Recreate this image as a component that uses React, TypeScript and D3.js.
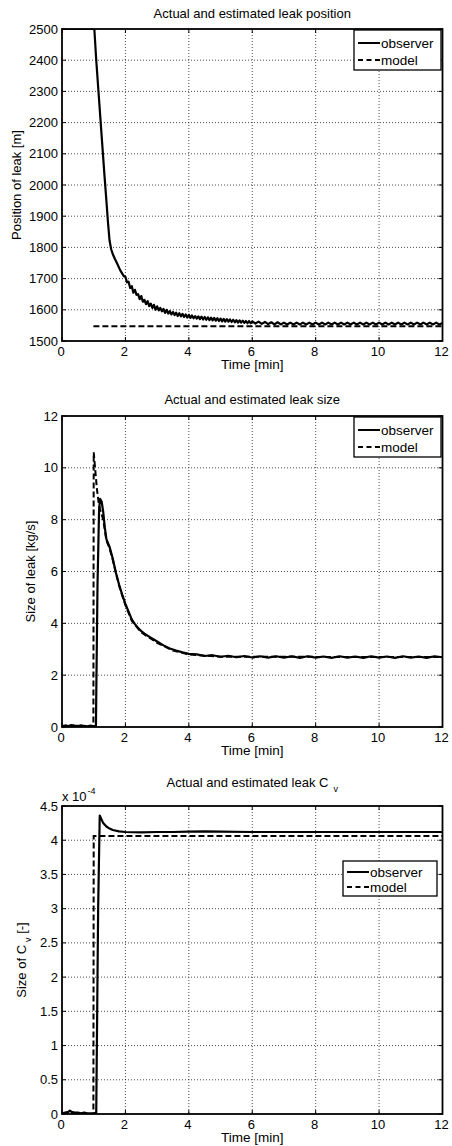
import React from 'react';
import * as d3 from 'd3';

type Pt = [number, number];

// axis ticks
const timeTicks = [0, 2, 4, 6, 8, 10, 12];
const positionTicks = [1500, 1600, 1700, 1800, 1900, 2000, 2100, 2200, 2300, 2400, 2500];
const sizeTicks = [0, 2, 4, 6, 8, 10, 12];
const cvTicks = [0, 0.5, 1, 1.5, 2, 2.5, 3, 3.5, 4, 4.5];
const cvTickLabels = ['0', '0.5', '1', '1.5', '2', '2.5', '3', '3.5', '4', '4.5'];

// leak position [m]
const positionObserver: Pt[] = [
  [0, 2500], [1.02, 2500], [1.08, 2400], [1.15, 2300], [1.22, 2200], [1.28, 2115], [1.34, 2030],
  [1.4, 1950], [1.45, 1880], [1.5, 1822], [1.55, 1794], [1.6, 1779],
  [1.67, 1763], [1.75, 1746], [1.83, 1728], [1.9, 1716], [1.95, 1708],
  [2.0, 1706], [2.05, 1688], [2.1, 1690], [2.15, 1670], [2.2, 1676], [2.25, 1655], [2.3, 1664],
  [2.35, 1648], [2.4, 1650], [2.45, 1634], [2.5, 1644], [2.55, 1626], [2.6, 1632], [2.65, 1618],
  [2.7, 1628], [2.75, 1612], [2.8, 1620], [2.85, 1606], [2.9, 1616], [2.95, 1600], [3.0, 1611],
  [3.05, 1598], [3.1, 1606], [3.15, 1595], [3.2, 1603], [3.25, 1590], [3.3, 1600], [3.35, 1588],
  [3.4, 1596], [3.45, 1585], [3.5, 1593], [3.55, 1583], [3.6, 1591], [3.65, 1580], [3.7, 1589],
  [3.75, 1579], [3.8, 1587], [3.85, 1577], [3.9, 1585], [3.95, 1575], [4.0, 1584], [4.05, 1574],
  [4.1, 1582], [4.15, 1573], [4.2, 1580], [4.25, 1572], [4.3, 1579], [4.35, 1570], [4.4, 1578],
  [4.45, 1569], [4.5, 1577], [4.55, 1568], [4.6, 1576], [4.65, 1567], [4.7, 1575], [4.75, 1566],
  [4.8, 1574], [4.85, 1565], [4.9, 1573], [4.95, 1564], [5.0, 1572], [5.05, 1563], [5.1, 1571],
  [5.15, 1562], [5.2, 1570], [5.25, 1562], [5.3, 1569], [5.35, 1561], [5.4, 1568], [5.45, 1560],
  [5.5, 1567], [5.55, 1559], [5.6, 1566], [5.65, 1559], [5.7, 1565], [5.75, 1558], [5.8, 1564],
  [5.85, 1557], [5.9, 1564], [5.95, 1557], [6.0, 1563],
  [6.1, 1556], [6.2, 1562], [6.3, 1555], [6.4, 1561], [6.5, 1554], [6.6, 1560], [6.7, 1553],
  [6.8, 1560], [6.9, 1553], [7.0, 1559], [7.1, 1553], [7.2, 1559], [7.3, 1553], [7.4, 1559],
  [7.5, 1553], [7.6, 1559], [7.7, 1553], [7.8, 1559], [7.9, 1553], [8.0, 1559], [8.1, 1553],
  [8.2, 1559], [8.3, 1553], [8.4, 1559], [8.5, 1553], [8.6, 1559], [8.7, 1553], [8.8, 1559],
  [8.9, 1553], [9.0, 1559], [9.1, 1553], [9.2, 1559], [9.3, 1553], [9.4, 1559], [9.5, 1553],
  [9.6, 1559], [9.7, 1553], [9.8, 1559], [9.9, 1553], [10.0, 1559], [10.1, 1553], [10.2, 1559],
  [10.3, 1553], [10.4, 1559], [10.5, 1553], [10.6, 1559], [10.7, 1553], [10.8, 1559], [10.9, 1553],
  [11.0, 1559], [11.1, 1553], [11.2, 1559], [11.3, 1553], [11.4, 1559], [11.5, 1553], [11.6, 1559],
  [11.7, 1553], [11.8, 1559], [11.9, 1553], [12.0, 1558],
];
const positionModel: Pt[] = [[0.99, 1547], [12, 1547]];

// leak size [kg/s]
const sizeObserver: Pt[] = [
  [0, 0.03], [0.1, 0.06], [0.2, 0.04], [0.3, 0.07], [0.4, 0.05], [0.5, 0.04], [0.6, 0.06],
  [0.7, 0.04], [0.8, 0.03], [0.9, 0.05], [1.0, 0.03], [1.07, 0.05], [1.12, 5.5], [1.17, 8.4],
  [1.2, 8.8], [1.25, 8.7], [1.3, 8.3], [1.35, 7.7], [1.4, 7.25], [1.5, 6.95], [1.6, 6.5],
  [1.7, 5.95], [1.8, 5.5], [1.9, 5.1], [2.0, 4.75], [2.1, 4.45], [2.2, 4.15], [2.3, 3.97],
  [2.4, 3.82], [2.5, 3.7], [2.6, 3.6], [2.8, 3.45], [3.0, 3.3], [3.2, 3.15], [3.4, 3.03],
  [3.6, 2.95], [3.8, 2.88], [4.0, 2.82], [4.25, 2.8], [4.5, 2.74], [4.75, 2.77], [5.0, 2.71],
  [5.25, 2.75], [5.5, 2.69], [5.75, 2.74], [6.0, 2.68], [6.25, 2.73], [6.5, 2.68], [6.75, 2.73],
  [7.0, 2.68], [7.25, 2.73], [7.5, 2.67], [7.75, 2.73], [8.0, 2.68], [8.25, 2.72], [8.5, 2.67],
  [8.75, 2.73], [9.0, 2.68], [9.25, 2.72], [9.5, 2.67], [9.75, 2.73], [10.0, 2.68], [10.25, 2.72],
  [10.5, 2.67], [10.75, 2.73], [11.0, 2.68], [11.25, 2.72], [11.5, 2.67], [11.75, 2.73], [12.0, 2.69],
];
const sizeModel: Pt[] = [
  [0, 0], [0.99, 0], [1.0, 10.6], [1.05, 9.9], [1.1, 9.2], [1.15, 8.7], [1.2, 8.4], [1.3, 8.0],
  [1.4, 7.2], [1.5, 6.9], [1.6, 6.45], [1.8, 5.45], [2.0, 4.7], [2.2, 4.1], [2.5, 3.65],
  [3.0, 3.25], [3.5, 2.95], [4.0, 2.8], [5.0, 2.71], [12.0, 2.7],
];

// leak Cv [x 1e-4]
const cvObserver: Pt[] = [
  [0, 0.01], [0.1, 0.02], [0.2, 0.03], [0.25, 0.05], [0.3, 0.03], [0.4, 0.02], [0.5, 0.02],
  [0.6, 0.01], [0.7, 0.02], [0.8, 0.01], [0.9, 0.01], [1.0, 0.01], [1.08, 0.02], [1.14, 3.0],
  [1.19, 4.36], [1.25, 4.3], [1.3, 4.25], [1.4, 4.2], [1.5, 4.17], [1.6, 4.15], [1.8, 4.13],
  [2.0, 4.12], [2.5, 4.115], [3.0, 4.12], [3.5, 4.12], [4.0, 4.125], [4.5, 4.13], [5.0, 4.125],
  [6.0, 4.12], [7.0, 4.12], [8.0, 4.12], [9.0, 4.12], [10.0, 4.12], [11.0, 4.12], [12.0, 4.12],
];
const cvModel: Pt[] = [[0, 0], [0.99, 0], [1.0, 4.06], [12, 4.06]];

const FONT = 'Liberation Sans, Arial, Helvetica, sans-serif';
const X0 = 62;
const X1 = 442.5;

type PanelProps = {
  id: string;
  top: number;
  bottom: number;
  yDomain: [number, number];
  yTicks: number[];
  yTickLabels: string[];
  title: React.ReactNode;
  titleY: number;
  yLabel: React.ReactNode;
  yLabelX: number;
  observer: Pt[];
  model: Pt[];
  legend: { x: number; y: number; w: number; h: number; r1: number; r2: number };
  exponent?: boolean;
};

function Panel(p: PanelProps) {
  const x = d3.scaleLinear().domain([0, 12]).range([X0, X1]);
  const y = d3.scaleLinear().domain(p.yDomain).range([p.bottom, p.top]);
  const line = d3.line<Pt>().x(d => x(d[0])).y(d => y(d[1]));
  const midY = (p.top + p.bottom) / 2;
  const L = p.legend;

  return (
    <g>
      <defs>
        <clipPath id={p.id}>
          <rect x={X0} y={p.top} width={X1 - X0} height={p.bottom - p.top} />
        </clipPath>
      </defs>

      {/* grid */}
      {timeTicks.slice(1, -1).map(t => (
        <line key={'gx' + t} x1={x(t)} x2={x(t)} y1={p.top} y2={p.bottom}
          stroke="#000" strokeWidth={0.7} strokeDasharray="1,2" />
      ))}
      {p.yTicks.slice(1, -1).map(v => (
        <line key={'gy' + v} x1={X0} x2={X1} y1={y(v)} y2={y(v)}
          stroke="#000" strokeWidth={0.7} strokeDasharray="1,2" />
      ))}

      {/* data */}
      <g clipPath={`url(#${p.id})`}>
        <path d={line(p.model) || ''} fill="none" stroke="#000" strokeWidth={2} strokeDasharray="6,3" />
        <path d={line(p.observer) || ''} fill="none" stroke="#000" strokeWidth={2.2} strokeLinejoin="round" />
      </g>

      {/* ticks, inward on all four sides */}
      {timeTicks.map(t => (
        <g key={'tx' + t}>
          <line x1={x(t)} x2={x(t)} y1={p.bottom} y2={p.bottom - 4} stroke="#000" strokeWidth={1} />
          <line x1={x(t)} x2={x(t)} y1={p.top} y2={p.top + 4} stroke="#000" strokeWidth={1} />
          <text x={x(t) - 1} y={p.bottom + 15} textAnchor="middle" fontSize={13} fontFamily={FONT}>{t}</text>
        </g>
      ))}
      {p.yTicks.map((v, i) => (
        <g key={'ty' + v}>
          <line x1={X0} x2={X0 + 4} y1={y(v)} y2={y(v)} stroke="#000" strokeWidth={1} />
          <line x1={X1} x2={X1 - 4} y1={y(v)} y2={y(v)} stroke="#000" strokeWidth={1} />
          <text x={58} y={y(v)} dy="0.35em" textAnchor="end" fontSize={13} fontFamily={FONT}>{p.yTickLabels[i]}</text>
        </g>
      ))}

      {/* axes box */}
      <rect x={X0} y={p.top} width={X1 - X0} height={p.bottom - p.top} fill="none" stroke="#000" strokeWidth={1.8} />

      {p.exponent && (
        <text x={62} y={p.top - 5} fontSize={13} fontFamily={FONT}>
          x 10<tspan fontSize={9} dy={-7} dx={1}>-4</tspan>
        </text>
      )}

      <text x={(X0 + X1) / 2} y={p.titleY} textAnchor="middle" fontSize={13} fontFamily={FONT}>{p.title}</text>
      <text x={0} y={0} transform={`translate(${p.yLabelX},${midY}) rotate(-90)`} textAnchor="middle"
        fontSize={13} fontFamily={FONT}>{p.yLabel}</text>
      <text x={(X0 + X1) / 2} y={p.bottom + 28} textAnchor="middle" fontSize={13.5} fontFamily={FONT}>Time [min]</text>

      {/* legend */}
      <rect x={L.x} y={L.y} width={L.w} height={L.h} fill="#fff" stroke="#000" strokeWidth={1.3} />
      <line x1={L.x + 4} x2={L.x + 26} y1={L.y + L.r1} y2={L.y + L.r1} stroke="#000" strokeWidth={2} />
      <text x={L.x + 27} y={L.y + L.r1} dy="0.35em" fontSize={13.5} fontFamily={FONT}>observer</text>
      <line x1={L.x + 4} x2={L.x + 26} y1={L.y + L.r2} y2={L.y + L.r2} stroke="#000" strokeWidth={2} strokeDasharray="5,3.5" />
      <text x={L.x + 27} y={L.y + L.r2} dy="0.35em" fontSize={13.5} fontFamily={FONT}>model</text>
    </g>
  );
}

export default function App() {
  return (
    <svg width={452} height={1146} style={{ position: 'absolute', left: 0, top: 0, background: '#fff' }}>
      <rect width={452} height={1146} fill="#fff" />
      <Panel
        id="clip-pos" top={29} bottom={341} yDomain={[1500, 2500]}
        yTicks={positionTicks} yTickLabels={positionTicks.map(String)}
        title="Actual and estimated leak position" titleY={18}
        yLabel="Position of leak [m]" yLabelX={21}
        observer={positionObserver} model={positionModel}
        legend={{ x: 354, y: 30, w: 87, h: 40, r1: 13, r2: 30 }}
      />
      <Panel
        id="clip-size" top={416} bottom={727} yDomain={[0, 12]}
        yTicks={sizeTicks} yTickLabels={sizeTicks.map(String)}
        title="Actual and estimated leak size" titleY={404}
        yLabel="Size of leak [kg/s]" yLabelX={35}
        observer={sizeObserver} model={sizeModel}
        legend={{ x: 354, y: 417, w: 87, h: 40, r1: 13, r2: 30 }}
      />
      <Panel
        id="clip-cv" top={806} bottom={1114} yDomain={[0, 4.5]}
        yTicks={cvTicks} yTickLabels={cvTickLabels}
        title={<>Actual and estimated leak C<tspan fontSize={9} dx={5} dy={5}>v</tspan></>} titleY={787}
        yLabel={<>Size of C<tspan fontSize={9} dx={3} dy={5}>v</tspan><tspan dy={-5}> [-]</tspan></>} yLabelX={26}
        observer={cvObserver} model={cvModel}
        legend={{ x: 343, y: 861, w: 94, h: 35, r1: 11, r2: 26 }}
        exponent
      />
    </svg>
  );
}
